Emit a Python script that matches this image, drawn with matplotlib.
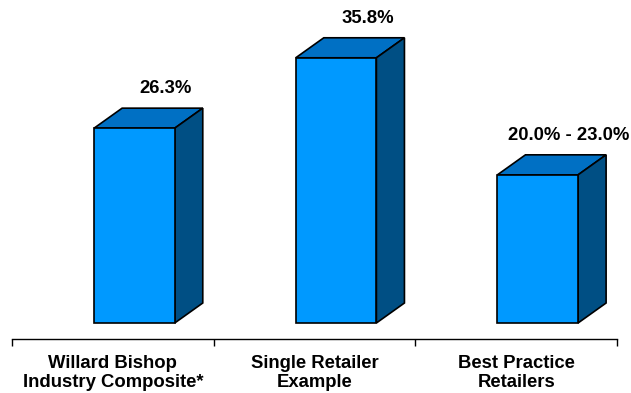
import matplotlib.pyplot as plt
from matplotlib.patches import Polygon

categories = ['Willard Bishop\nIndustry Composite*', 'Single Retailer\nExample', 'Best Practice\nRetailers']
values = [26.3, 35.8, 20.0]
value_labels = ['26.3%', '35.8%', '20.0% - 23.0%']

front_color = '#0099ff'
top_color = '#0070c4'
side_color = '#004f84'

plt.rcParams['font.family'] = ['Liberation Sans', 'DejaVu Sans']

fig = plt.figure(figsize=(6.31, 3.93), dpi=100)
ax = fig.add_axes([12 / 631, (393 - 339) / 393, 605 / 631, 339 / 393])

x = list(range(len(values)))
shift, width = 0.107, 0.40
dx, dy = 0.139, 2.7  # depth of the fake 3d box, in data units

for xi, v in zip(x, values):
    x0 = xi + shift - width / 2
    x1 = x0 + width
    ax.bar(x0, v, width=width, align='edge', color=front_color, edgecolor='black', linewidth=1.2, zorder=3)
    top = Polygon([(x0, v), (x0 + dx, v + dy), (x1 + dx, v + dy), (x1, v)],
                  closed=True, facecolor=top_color, edgecolor='black', linewidth=1.2, zorder=2)
    side = Polygon([(x1, 0), (x1 + dx, dy), (x1 + dx, v + dy), (x1, v)],
                   closed=True, facecolor=side_color, edgecolor='black', linewidth=1.2, zorder=2)
    ax.add_patch(top)
    ax.add_patch(side)

for xi, v, lab in zip(x, values, value_labels):
    ax.text(xi + 0.262, v + 5.3, lab, ha='center', va='center', fontsize=13.3, fontweight='bold')

ax.set_xlim(-0.5, 2.5)
ax.set_ylim(-2.16, 43.6)

ax.set_xticks([-0.5, 0.5, 1.5, 2.5])
ax.set_xticklabels([])
ax.tick_params(axis='x', which='major', direction='out', length=5, width=1, color='black')
ax.set_xticks(x, minor=True)
ax.set_xticklabels(categories, minor=True, fontsize=13.3, fontweight='bold', linespacing=1.12)
ax.tick_params(axis='x', which='minor', length=0, pad=11.5)
ax.set_yticks([])

for s in ['top', 'right', 'left']:
    ax.spines[s].set_visible(False)
ax.spines['bottom'].set_linewidth(1)
ax.patch.set_alpha(0)

fig.savefig('out.png', dpi=100)
